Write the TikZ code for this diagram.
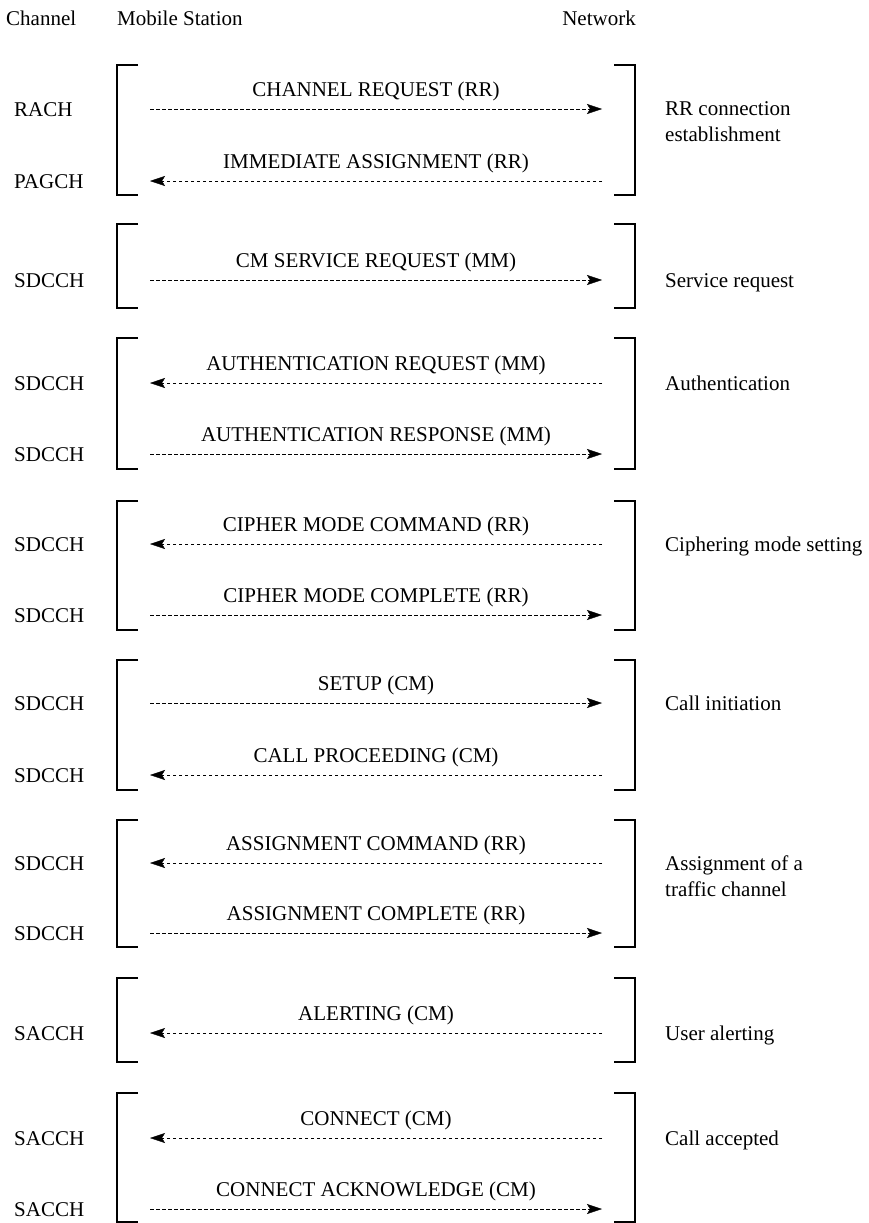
\documentclass[tikz,border=0pt]{standalone}
\usepackage{fontspec}
\setmainfont{Liberation Serif}
\usepackage{tikz}
\usetikzlibrary{arrows.meta}

\begin{document}
\begin{tikzpicture}[x=1pt, y=-1pt, font=\fontsize{21}{26}\selectfont,
  msg/.style={line width=0.7pt, dash pattern=on 3.5pt off 2.5pt,
    -{Stealth[length=15pt, width=10pt, inset=3pt, line width=0.4pt]}},
  msglabel/.style={midway, anchor=base, yshift=13pt, inner sep=0pt},
  bracket/.style={line width=1.4pt},
  chan/.style={anchor=base west, inner sep=0pt},
  phase/.style={anchor=base west, align=left, inner sep=0pt}]
\useasboundingbox (0,0) rectangle (869,1223);

\node[chan] (chhead) at (6,26) {Channel};
\node[chan] (mshead) at (117,26) {Mobile Station};
\node[anchor=base east, inner sep=0pt] (nwhead) at (636,26) {Network};

% brackets round each phase
\foreach \t/\b in {65/195, 224/308, 338/469, 501/630, 660/790, 820/947,
                   978/1062, 1093/1222}{
  \draw[bracket] (138,\t) -| (117,\b) -- (138,\b);
  \draw[bracket] (614,\t) -| (635,\b) -- (614,\b);
}

% channel of each message, and its two ends
\foreach \i/\y/\c in {1/109/RACH, 2/181/PAGCH, 3/280/SDCCH, 4/383/SDCCH,
                      5/454/SDCCH, 6/544/SDCCH, 7/615/SDCCH, 8/703/SDCCH,
                      9/775/SDCCH, 10/863/SDCCH, 11/933/SDCCH, 12/1033/SACCH,
                      13/1138/SACCH, 14/1209/SACCH}{
  \node[chan] (ch\i) at (14,\y+7) {\c};
  \coordinate (ms\i) at (150,\y);
  \coordinate (nw\i) at (602,\y);
}

\draw[msg] (ms1) -- (nw1) node[msglabel] {CHANNEL REQUEST (RR)};
\draw[msg] (nw2) -- (ms2) node[msglabel] {IMMEDIATE ASSIGNMENT (RR)};
\draw[msg] (ms3) -- (nw3) node[msglabel] {CM SERVICE REQUEST (MM)};
\draw[msg] (nw4) -- (ms4) node[msglabel] {AUTHENTICATION REQUEST (MM)};
\draw[msg] (ms5) -- (nw5) node[msglabel] {AUTHENTICATION RESPONSE (MM)};
\draw[msg] (nw6) -- (ms6) node[msglabel] {CIPHER MODE COMMAND (RR)};
\draw[msg] (ms7) -- (nw7) node[msglabel] {CIPHER MODE COMPLETE (RR)};
\draw[msg] (ms8) -- (nw8) node[msglabel] {SETUP (CM)};
\draw[msg] (nw9) -- (ms9) node[msglabel] {CALL PROCEEDING (CM)};
\draw[msg] (nw10) -- (ms10) node[msglabel] {ASSIGNMENT COMMAND (RR)};
\draw[msg] (ms11) -- (nw11) node[msglabel] {ASSIGNMENT COMPLETE (RR)};
\draw[msg] (nw12) -- (ms12) node[msglabel] {ALERTING (CM)};
\draw[msg] (nw13) -- (ms13) node[msglabel] {CONNECT (CM)};
\draw[msg] (ms14) -- (nw14) node[msglabel] {CONNECT ACKNOWLEDGE (CM)};

% base of a two-line label is its last line
\node[phase] (ph1) at (665,141) {RR connection\\establishment};
\node[phase] (ph2) at (665,287) {Service request};
\node[phase] (ph3) at (665,390) {Authentication};
\node[phase] (ph4) at (665,551) {Ciphering mode setting};
\node[phase] (ph5) at (665,710) {Call initiation};
\node[phase] (ph6) at (665,896) {Assignment of a\\traffic channel};
\node[phase] (ph7) at (665,1040) {User alerting};
\node[phase] (ph8) at (665,1145) {Call accepted};
\end{tikzpicture}
\end{document}
